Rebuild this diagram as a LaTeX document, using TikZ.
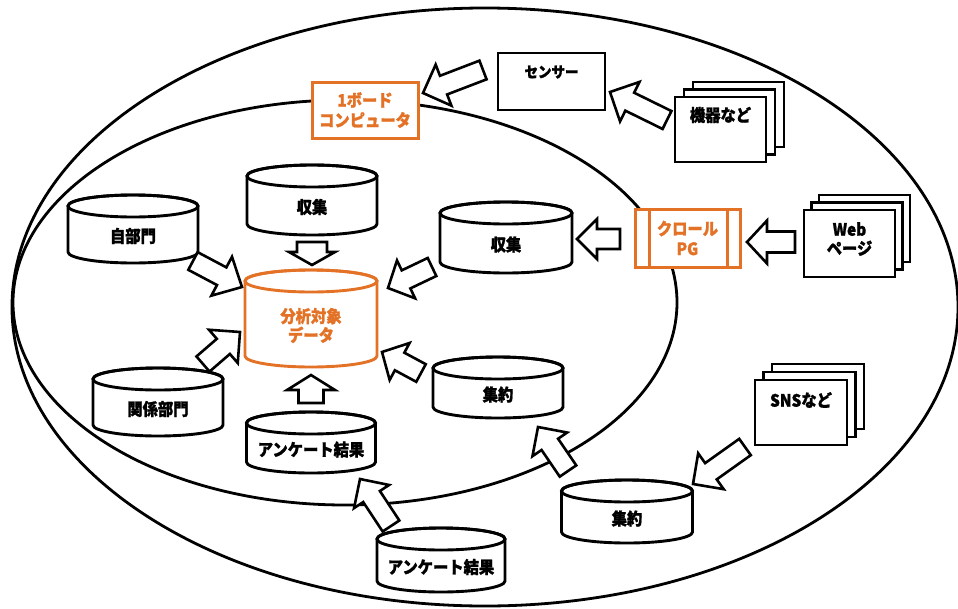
\documentclass[tikz,border=0pt]{standalone}
\usepackage{fontspec}
\setmainfont{Noto Sans CJK JP}[FakeStretch=0.9, BoldFeatures={FakeBold=1.2}]
\usetikzlibrary{calc}
\definecolor{org}{RGB}{228,114,38}
\tikzset{
  ell/.style={line width=2.8pt},
  barrowst/.style={draw=black, fill=white, line width=2.6pt, line join=miter},
  boxst/.style={draw=black, fill=white, line width=2.9pt, inner sep=0pt, outer sep=0pt},
  obox/.style={draw=org, fill=white, line width=3pt, inner sep=0pt, outer sep=0pt, text=org,
    font=\fontsize{17pt}{20pt}\selectfont\bfseries, align=center},
  lbl/.style={font=\fontsize{17pt}{19pt}\selectfont\bfseries, align=center, inner sep=0pt},
}
% cylinder: name, cx, top, width, height, colour, text
\newcommand\cyl[7]{%
  \path (#2,#3) node[anchor=north, minimum width=#4pt, minimum height=#5pt, inner sep=0pt, outer sep=0pt] (#1) {};
  \pgfmathsetmacro\cylrx{#4/2}
  \draw[line width=2.9pt, draw=#6, fill=white] ([yshift=-11pt]#1.north west) -- ([yshift=11pt]#1.south west)
     arc[start angle=180, end angle=360, x radius=\cylrx*1pt, y radius=11pt]
     -- ([yshift=-11pt]#1.north east)
     arc[start angle=0, end angle=180, x radius=\cylrx*1pt, y radius=11pt] -- cycle;
  \draw[line width=2.9pt, draw=#6] ([yshift=-11pt]#1.north) ellipse [x radius=\cylrx*1pt, y radius=11pt];
  \node[lbl, text=#6] at ([yshift=-7pt]#1.center) {#7};
}
% stacked sheets: name, x, y, w, h, dx, dy
\newcommand\sheets[7]{%
  \path (#2,#3) node[anchor=north west, minimum width=#4pt, minimum height=#5pt, inner sep=0pt, outer sep=0pt] (#1) {};
  \draw[boxst] ([xshift=2*#6pt, yshift=2*#7pt]#1.south west) rectangle ([xshift=2*#6pt, yshift=2*#7pt]#1.north east);
  \draw[boxst] ([xshift=#6pt, yshift=#7pt]#1.south west) rectangle ([xshift=#6pt, yshift=#7pt]#1.north east);
  \draw[boxst] (#1.south west) rectangle (#1.north east);
}
% block arrow: tail, tip, head length, head half width, shaft half width
\newcommand\barr[5]{%
  \path ($(#2)!#3pt!(#1)$) coordinate (bh);
  \draw[barrowst] ($(#1)!#5pt!90:(#2)$) -- ($(bh)!#5pt!90:(#2)$) -- ($(bh)!#4pt!90:(#2)$) -- (#2)
     -- ($(bh)!#4pt!-90:(#2)$) -- ($(bh)!#5pt!-90:(#2)$) -- ($(#1)!#5pt!-90:(#2)$) -- cycle;
}
\begin{document}
\begin{tikzpicture}[x=1pt,y=-1pt]
\useasboundingbox (0,0) rectangle (958,608);
\fill[white] (0,0) rectangle (958,608);

% ellipses
\draw[ell] (485,307) ellipse [x radius=473pt, y radius=299pt];
\draw[ell] (345,302.5) ellipse [x radius=332pt, y radius=202.5pt];

% cylinders
\cyl{colltop}{312}{165}{130}{70}{black}{収集}
\cyl{target}{311}{270}{132}{97}{org}{分析対象\\データ}
\cyl{jibu}{133}{195}{130}{68}{black}{自部門}
\cyl{kankei}{158}{368}{130}{68}{black}{関係部門}
\cyl{enqin}{311}{412}{129}{61}{black}{アンケート結果}
\cyl{collr}{506}{202}{132}{71}{black}{収集}
\cyl{aggin}{498}{357}{130}{61}{black}{集約}
\cyl{aggout}{627}{480}{131}{63}{black}{集約}
\cyl{enqout}{441}{528}{128}{64}{black}{アンケート結果}

% boxes
\node[boxst, minimum width=107pt, minimum height=57pt, anchor=north west] (sensor) at (498,53) {};
\node[lbl, font=\fontsize{15pt}{18pt}\selectfont\bfseries] at ([yshift=-19pt]sensor.north) {センサー};
\node[obox, minimum width=106pt, minimum height=56pt, anchor=north west] (board) at (312,82) {1ボード\\コンピュータ};
\node[obox, minimum width=105pt, minimum height=58pt, anchor=north west] (crawl) at (635,209) {クロール\\PG};
\draw[org, line width=3pt] ([xshift=14pt]crawl.north west) -- ([xshift=14pt]crawl.south west);
\draw[org, line width=3pt] ([xshift=-13pt]crawl.north east) -- ([xshift=-13pt]crawl.south east);

% stacked sheets
\sheets{kiki}{675}{97}{91}{65}{9}{7.5}
\node[lbl] at ([yshift=-18pt]kiki.north) {機器など};
\sheets{web}{804}{210}{91}{67}{7.5}{7.5}
\node[lbl] at ([yshift=-29pt]web.north) {Web\\ページ};
\sheets{sns}{755}{380}{92}{65}{8.5}{8}
\node[lbl] at ([yshift=-20pt]sns.north) {SNSなど};

% arrow end points
\coordinate (a1s) at (483,70);  \coordinate (a1e) at (423,93);
\coordinate (a2s) at (667,120); \coordinate (a2e) at (610,92);
\coordinate (a3s) at (795,242); \coordinate (a3e) at (747,242);
\coordinate (a4s) at (620,239); \coordinate (a4e) at (577,239);
\coordinate (a5s) at (312,242); \coordinate (a5e) at (312,265);
\coordinate (a6s) at (311,403); \coordinate (a6e) at (311,375);
\coordinate (a7s) at (193,261); \coordinate (a7e) at (242,287);
\coordinate (a8s) at (203,364); \coordinate (a8e) at (240,332);
\coordinate (a9s) at (432,267); \coordinate (a9e) at (388,288);
\coordinate (a10s) at (421,373); \coordinate (a10e) at (382,352);
\coordinate (a11s) at (568,471); \coordinate (a11e) at (538,427);
\coordinate (a12s) at (391,526); \coordinate (a12e) at (360,479);
\coordinate (a13s) at (745,447); \coordinate (a13e) at (693,484);

\barr{a1s}{a1e}{22}{22}{10}
\barr{a2s}{a2e}{22}{22}{10}
\barr{a3s}{a3e}{20}{21.5}{10.5}
\barr{a4s}{a4e}{20}{20}{10}
\barr{a5s}{a5e}{13}{23}{15}
\barr{a6s}{a6e}{15}{24}{12.5}
\barr{a7s}{a7e}{23}{22}{10}
\barr{a8s}{a8e}{22}{22}{10}
\barr{a9s}{a9e}{20}{21}{10}
\barr{a10s}{a10e}{20}{21}{10}
\barr{a11s}{a11e}{21}{21}{10}
\barr{a12s}{a12e}{21}{21}{10}
\barr{a13s}{a13e}{22}{22}{10}
\end{tikzpicture}
\end{document}
